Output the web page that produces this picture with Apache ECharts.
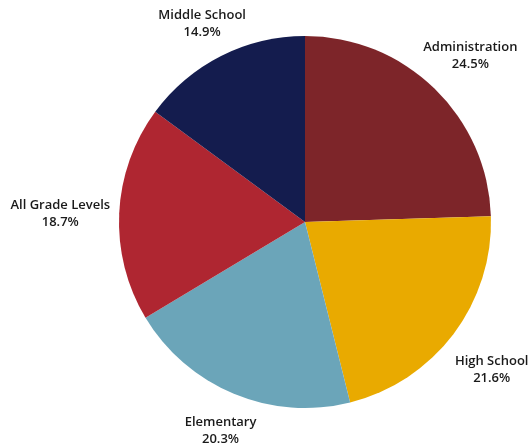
<!DOCTYPE html>
<html><head><meta charset="utf-8">
<script src="https://cdn.jsdelivr.net/npm/echarts@6/dist/echarts.min.js"></script>
<style>html,body{margin:0;padding:0;background:#fff}#c{width:532px;height:446px}</style>
</head><body><div id="c"></div>
<script>
var categories = ['Administration','High School','Elementary','All Grade Levels','Middle School'];
var values = [24.5, 21.6, 20.3, 18.7, 14.9];
var colors = ['#7D2529','#E9AA00','#6BA5B9','#AF2631','#141C4E'];
var labelOffsets = [[-1,5],[-4,4],[7,-12],[-6,3],[5,15]];

var chart = echarts.init(document.getElementById('c'));
var font = '"Open Sans", Lato, sans-serif';
chart.setOption({
  animation:false,
  series:[{
    type:'pie', center:[305,222], radius:186, startAngle:90, clockwise:true,
    label:{show:false}, labelLine:{show:false}, silent:true,
    data: categories.map(function(n,i){return {name:n, value:values[i], itemStyle:{color:colors[i]}};})
  },{
    type:'pie', center:[305,222], radius:[226,246], startAngle:90, clockwise:true,
    silent:true, itemStyle:{color:'rgba(0,0,0,0)'},
    labelLine:{show:false},
    label:{show:true, position:'inside', color:'#1a1a1a', fontFamily:font, fontSize:13, fontWeight:600, lineHeight:17,
      formatter:function(p){return p.name+'\n'+p.value.toFixed(1)+'%';}},
    data: categories.map(function(n,i){return {name:n, value:values[i], label:{offset:labelOffsets[i]}};})
  }]
});
</script></body></html>
